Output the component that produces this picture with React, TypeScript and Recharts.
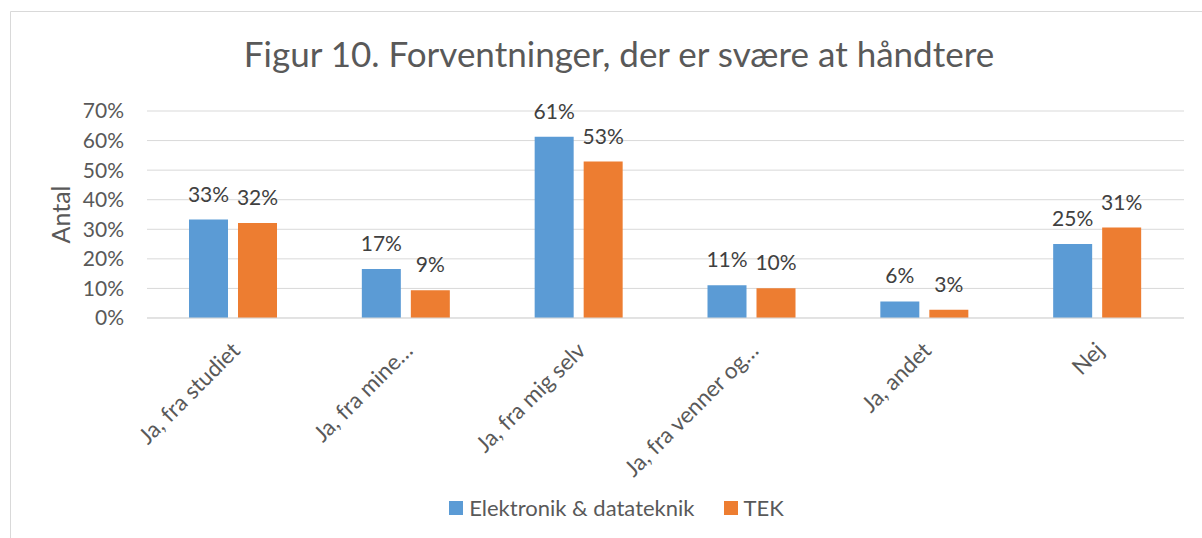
import { BarChart, Bar, XAxis, YAxis, CartesianGrid, LabelList } from "recharts";

const title = "Figur 10. Forventninger, der er svære at håndtere";
const yAxisTitle = "Antal";
const categories = [
  "Ja, fra studiet",
  "Ja, fra mine…",
  "Ja, fra mig selv",
  "Ja, fra venner og…",
  "Ja, andet",
  "Nej",
];
const seriesNames = ["Elektronik & datateknik", "TEK"];
const elektronik = [33.3, 16.6, 61.3, 11.1, 5.6, 25.0];
const tek = [32.1, 9.4, 52.9, 10.1, 2.8, 30.6];
const yTicks = [0, 10, 20, 30, 40, 50, 60, 70];

const colors = ["#5B9BD5", "#ED7D31"];
const FONT = "Lato, 'Open Sans', sans-serif";

const data = categories.map((name, i) => ({
  name,
  elektronik: elektronik[i],
  tek: tek[i],
}));

function RotatedTick({ x, y, payload }: any) {
  return (
    <g transform={`translate(${x + 8},${y + 34}) rotate(-45)`}>
      <text
        x={0}
        y={0}
        textAnchor="end"
        fill="#595959"
        fontSize={22.5}
        fontFamily={FONT}
      >
        {payload.value}
      </text>
    </g>
  );
}

function YTitle({ viewBox }: any) {
  const cy = viewBox.y + viewBox.height / 2;
  return (
    <text
      x={0}
      y={0}
      transform={`translate(60,${cy}) rotate(-90)`}
      textAnchor="middle"
      dominantBaseline="central"
      fill="#595959"
      fontSize={25}
      fontFamily={FONT}
    >
      {yAxisTitle}
    </text>
  );
}

export default function App() {
  return (
    <div
      style={{
        position: "absolute",
        left: 0,
        top: 0,
        width: 1202,
        height: 538,
        overflow: "hidden",
        background: "#fff",
        fontFamily: FONT,
      }}
    >
      <svg
        width={1202}
        height={538}
        style={{ position: "absolute", left: 0, top: 0 }}
      >
        <line x1={10.5} y1={11.5} x2={1202} y2={11.5} stroke="#d9d9d9" />
        <line x1={10.5} y1={11.5} x2={10.5} y2={538} stroke="#d9d9d9" />
        <text
          x={619}
          y={67}
          textAnchor="middle"
          fill="#595959"
          fontSize={35}
          fontFamily={FONT}
        >
          {title}
        </text>
      </svg>
      <div style={{ position: "absolute", left: 0, top: 0 }}>
        <BarChart
          width={1202}
          height={538}
          data={data}
          margin={{ top: 111, right: 18, bottom: 70, left: 0 }}
          barSize={39}
          barGap={10}
        >
          <CartesianGrid vertical={false} stroke="#d9d9d9" />
          <XAxis
            dataKey="name"
            interval={0}
            height={150}
            tickLine={false}
            tickSize={0}
            tickMargin={0}
            axisLine={{ stroke: "#d9d9d9" }}
            tick={<RotatedTick />}
          />
          <YAxis
            width={147}
            domain={[0, 70]}
            ticks={yTicks}
            interval={0}
            tickFormatter={(v: number) => `${v}%`}
            axisLine={false}
            tickLine={false}
            tickSize={0}
            tickMargin={23}
            tick={{ fill: "#595959", fontSize: 21, fontFamily: FONT }}
            label={<YTitle />}
          />
          <Bar
            dataKey="elektronik"
            name={seriesNames[0]}
            fill={colors[0]}
            isAnimationActive={false}
          >
            <LabelList
              dataKey="elektronik"
              position="top"
              offset={18}
              formatter={(v: any) => `${Math.round(Number(v))}%`}
              fill="#404040"
              fontSize={21}
              fontFamily={FONT}
            />
          </Bar>
          <Bar
            dataKey="tek"
            name={seriesNames[1]}
            fill={colors[1]}
            isAnimationActive={false}
          >
            <LabelList
              dataKey="tek"
              position="top"
              offset={18}
              formatter={(v: any) => `${Math.round(Number(v))}%`}
              fill="#404040"
              fontSize={21}
              fontFamily={FONT}
            />
          </Bar>
        </BarChart>
      </div>
      <div
        style={{
          position: "absolute",
          left: 0,
          width: 1233,
          top: 495,
          display: "flex",
          justifyContent: "center",
          alignItems: "center",
          gap: 29,
          color: "#595959",
          fontSize: 22,
          lineHeight: "26px",
        }}
      >
        {seriesNames.map((s, i) => (
          <div key={s} style={{ display: "flex", alignItems: "center" }}>
            <span
              style={{
                display: "inline-block",
                width: 14,
                height: 14,
                background: colors[i],
                marginRight: 6,
              }}
            />
            <span>{s}</span>
          </div>
        ))}
      </div>
    </div>
  );
}
